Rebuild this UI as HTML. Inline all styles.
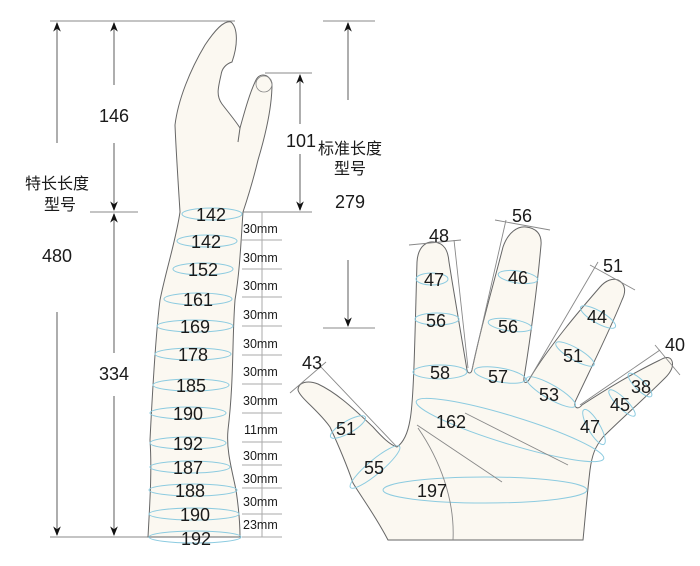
<!DOCTYPE html>
<html><head><meta charset="utf-8"><style>
html,body{margin:0;padding:0;background:#fff}
svg{display:block}
text{font-family:"Liberation Sans","Noto Sans CJK SC",sans-serif;fill:#1a1a1a}
.n{font-size:18px;text-anchor:middle}
.mm{font-size:12.5px}
.cj{font-size:16px;text-anchor:middle}
</style></head><body>
<svg width="700" height="566" viewBox="0 0 700 566" xmlns="http://www.w3.org/2000/svg">
<defs>
<marker id="ar" viewBox="0 0 10 10" refX="9" refY="5" markerWidth="8" markerHeight="8" orient="auto-start-reverse"><path d="M0,1 L10,5 L0,9 L3,5 z" fill="#111"/></marker>
</defs>
<g stroke="#888" stroke-width="1" fill="none">
<line x1="50" y1="21" x2="235" y2="21"/>
<line x1="90" y1="212" x2="138" y2="212"/>
<line x1="50" y1="537" x2="150" y2="537"/>
<line x1="265" y1="73" x2="312" y2="73"/>
<line x1="243" y1="212" x2="312" y2="212"/>
<line x1="323" y1="21" x2="375" y2="21"/>
<line x1="323" y1="328" x2="375" y2="328"/>
</g>
<g stroke="#777" stroke-width="1.2" fill="none">
<line x1="57" y1="143" x2="57" y2="23" marker-end="url(#ar)"/>
<line x1="57" y1="312" x2="57" y2="535" marker-end="url(#ar)"/>
<line x1="114" y1="85" x2="114" y2="23" marker-end="url(#ar)"/>
<line x1="114" y1="143" x2="114" y2="210" marker-end="url(#ar)"/>
<line x1="114" y1="353" x2="114" y2="214" marker-end="url(#ar)"/>
<line x1="114" y1="396" x2="114" y2="535" marker-end="url(#ar)"/>
<line x1="300" y1="75" x2="300" y2="210" marker-start="url(#ar)" marker-end="url(#ar)"/>
<line x1="348" y1="100" x2="348" y2="23" marker-end="url(#ar)"/>
<line x1="348" y1="260" x2="348" y2="326" marker-end="url(#ar)"/>
</g>
<rect x="285" y="124" width="30" height="30" fill="#fff"/>
<text class="n" x="114" y="122">146</text>
<text class="n" x="114" y="380">334</text>
<text class="n" x="57" y="262">480</text>
<text class="cj" x="57" y="189">特长长度</text>
<text class="cj" x="60" y="210">型号</text>
<text class="n" x="301" y="147">101</text>
<text class="cj" x="350" y="154">标准长度</text>
<text class="cj" x="350" y="174">型号</text>
<text class="n" x="350" y="208">279</text>

<!-- arm -->
<path d="M231,22 C238,28 238,45 232,62 C226,64 222,68 221,75 C218,88 216,96 222,104 C228,112 235,120 240,128 C245,110 250,92 256,80 C260,72 270,74 272,84 C272,110 264,140 258,160 C252,185 247,200 243,212 C241,240 240,270 235,300 C232,340 234,380 228,430 C226,450 232,470 236,490 C239,510 240,525 240,537 L148,537 C150,500 152,470 150,440 C152,400 155,340 160,300 C166,270 176,240 180,212 C178,180 176,150 175,125 C178,100 190,70 205,45 C215,30 224,20 231,22 Z" fill="#fbf8f1" stroke="#666" stroke-width="1"/>
<circle cx="264" cy="84" r="8" fill="none" stroke="#888" stroke-width="0.8"/>
<line x1="240" y1="128" x2="238" y2="142" stroke="#666"/>
<g fill="none" stroke="#8ccbe0" stroke-width="1">
<ellipse cx="212" cy="214" rx="30" ry="6"/>
<ellipse cx="207" cy="241" rx="30" ry="6"/>
<ellipse cx="203" cy="269" rx="30" ry="6"/>
<ellipse cx="198" cy="299" rx="34" ry="6"/>
<ellipse cx="195" cy="326" rx="38" ry="6"/>
<ellipse cx="193" cy="354" rx="38" ry="6"/>
<ellipse cx="191" cy="385" rx="38" ry="6"/>
<ellipse cx="188" cy="413" rx="38" ry="6"/>
<ellipse cx="188" cy="443" rx="38" ry="6"/>
<ellipse cx="190" cy="467" rx="40" ry="6"/>
<ellipse cx="193" cy="490" rx="44" ry="6"/>
<ellipse cx="194" cy="514" rx="45" ry="6"/>
<ellipse cx="195" cy="537" rx="46" ry="6"/>
</g>
<g>
<text class="n" x="211" y="221">142</text>
<text class="n" x="206" y="248">142</text>
<text class="n" x="203" y="276">152</text>
<text class="n" x="198" y="306">161</text>
<text class="n" x="195" y="333">169</text>
<text class="n" x="193" y="361">178</text>
<text class="n" x="191" y="392">185</text>
<text class="n" x="188" y="420">190</text>
<text class="n" x="188" y="450">192</text>
<text class="n" x="188" y="474">187</text>
<text class="n" x="190" y="497">188</text>
<text class="n" x="195" y="521">190</text>
<text class="n" x="196" y="545">192</text>
</g>
<!-- mm scale -->
<g stroke="#aaa" stroke-width="1">
<line x1="262" y1="212" x2="262" y2="537"/>
<line x1="242" y1="240" x2="282" y2="240"/>
<line x1="242" y1="269" x2="282" y2="269"/>
<line x1="242" y1="297" x2="282" y2="297"/>
<line x1="242" y1="326" x2="282" y2="326"/>
<line x1="242" y1="355" x2="282" y2="355"/>
<line x1="242" y1="384" x2="282" y2="384"/>
<line x1="242" y1="413" x2="282" y2="413"/>
<line x1="242" y1="442" x2="282" y2="442"/>
<line x1="242" y1="465" x2="282" y2="465"/>
<line x1="242" y1="488" x2="282" y2="488"/>
<line x1="242" y1="514" x2="282" y2="514"/>
<line x1="242" y1="537" x2="282" y2="537"/>
</g>
<g>
<text class="mm" x="243" y="233">30mm</text>
<text class="mm" x="243" y="262">30mm</text>
<text class="mm" x="243" y="290">30mm</text>
<text class="mm" x="243" y="319">30mm</text>
<text class="mm" x="243" y="348">30mm</text>
<text class="mm" x="243" y="376">30mm</text>
<text class="mm" x="243" y="405">30mm</text>
<text class="mm" x="244" y="434">11mm</text>
<text class="mm" x="243" y="460">30mm</text>
<text class="mm" x="243" y="483">30mm</text>
<text class="mm" x="243" y="506">30mm</text>
<text class="mm" x="243" y="529">23mm</text>
</g>

<!-- hand -->
<path d="M388,540 C375,515 360,495 353,483 C345,460 336,440 330,427 C318,410 300,398 298,390 C298,382 308,380 318,384 C335,392 350,405 373,427 C382,437 390,445 397,447 C404,442 408,432 410,420 C414,400 415,330 417,262 C418,245 428,241 434,242 C444,243 448,250 449,262 C455,300 462,340 467,370 C468,374 471,374 472,370 C480,330 492,290 503,247 C508,232 518,226 526,227 C536,228 542,234 541,245 C537,290 530,340 524,378 C523,384 527,384 530,378 C550,345 580,310 600,287 C606,280 613,278 618,280 C626,284 626,292 622,300 C610,330 590,370 575,402 C574,408 578,410 582,405 C605,390 635,372 660,360 C665,357 670,356 672,361 C674,367 670,373 665,378 C645,398 620,420 603,437 C595,447 592,455 590,470 C587,495 585,520 583,540 Z" fill="#fbf8f1" stroke="#666" stroke-width="1"/>
<g fill="none" stroke="#8ccbe0" stroke-width="1">
<ellipse cx="432" cy="279" rx="16" ry="6"/>
<ellipse cx="437" cy="319" rx="22" ry="6"/>
<ellipse cx="440" cy="372" rx="27" ry="7"/>
<ellipse cx="518" cy="277" rx="20" ry="6" transform="rotate(8 518 277)"/>
<ellipse cx="510" cy="325" rx="22" ry="6" transform="rotate(8 510 325)"/>
<ellipse cx="500" cy="375" rx="26" ry="7" transform="rotate(10 500 375)"/>
<ellipse cx="598" cy="317" rx="20" ry="6" transform="rotate(30 598 317)"/>
<ellipse cx="575" cy="354" rx="22" ry="6" transform="rotate(30 575 354)"/>
<ellipse cx="551" cy="392" rx="28" ry="7" transform="rotate(30 551 392)"/>
<ellipse cx="640" cy="385" rx="16" ry="5" transform="rotate(45 640 385)"/>
<ellipse cx="622" cy="403" rx="18" ry="5" transform="rotate(45 622 403)"/>
<ellipse cx="594" cy="427" rx="20" ry="6" transform="rotate(60 594 427)"/>
<ellipse cx="348" cy="427" rx="20" ry="6" transform="rotate(-30 348 427)"/>
<ellipse cx="375" cy="467" rx="32" ry="7" transform="rotate(-40 375 467)"/>
<ellipse cx="510" cy="430" rx="98" ry="14" transform="rotate(17 510 430)"/>
<ellipse cx="485" cy="490" rx="102" ry="13"/>
</g>
<g fill="none" stroke="#888" stroke-width="0.9">
<path d="M417,425 L502,482"/>
<path d="M465,413 L568,465"/>
<path d="M418,428 C440,460 455,500 453,540"/>
<line x1="409" y1="245" x2="461" y2="240"/>
<line x1="454" y1="240" x2="468" y2="368"/>
<line x1="495" y1="220" x2="550" y2="230"/>
<line x1="506" y1="220" x2="472" y2="370"/>
<line x1="590" y1="265" x2="635" y2="290"/>
<line x1="598" y1="262" x2="530" y2="378"/>
<line x1="655" y1="345" x2="680" y2="375"/>
<line x1="660" y1="350" x2="580" y2="405"/>
<line x1="290" y1="393" x2="326" y2="362"/>
<line x1="320" y1="366" x2="397" y2="447"/>
</g>
<g>
<text class="n" x="439" y="242">48</text>
<text class="n" x="522" y="222">56</text>
<text class="n" x="613" y="272">51</text>
<text class="n" x="675" y="351">40</text>
<text class="n" x="312" y="369">43</text>
<text class="n" x="434" y="286">47</text>
<text class="n" x="518" y="284">46</text>
<text class="n" x="597" y="323">44</text>
<text class="n" x="436" y="327">56</text>
<text class="n" x="508" y="333">56</text>
<text class="n" x="573" y="362">51</text>
<text class="n" x="641" y="393">38</text>
<text class="n" x="620" y="411">45</text>
<text class="n" x="440" y="379">58</text>
<text class="n" x="498" y="383">57</text>
<text class="n" x="549" y="401">53</text>
<text class="n" x="590" y="433">47</text>
<text class="n" x="451" y="428">162</text>
<text class="n" x="346" y="435">51</text>
<text class="n" x="374" y="474">55</text>
<text class="n" x="432" y="497">197</text>
</g>
</svg>
</body></html>
